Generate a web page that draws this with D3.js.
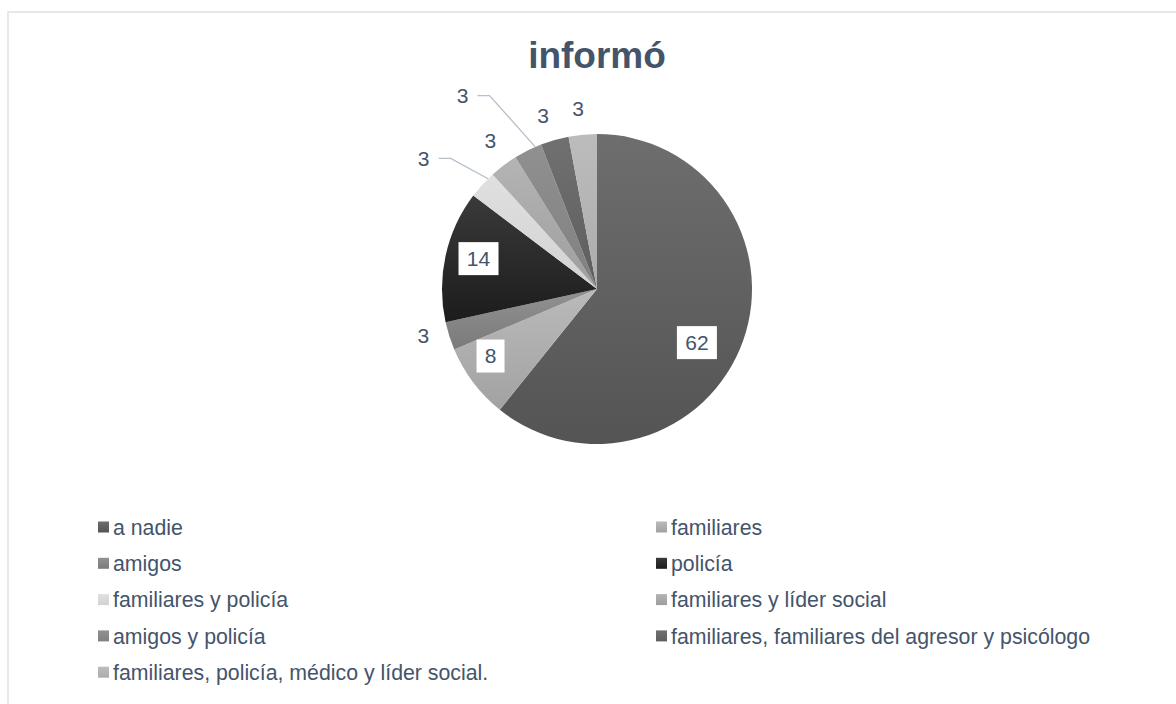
<!DOCTYPE html>
<html>
<head>
<meta charset="utf-8">
<script src="https://cdn.jsdelivr.net/npm/d3@7"></script>
<style>
  body { margin: 0; background: #fff; }
  svg { display: block; font-family: "Liberation Sans", Arial, sans-serif; }
</style>
</head>
<body>
<div id="container"></div>
<script>
// datos
const categories = [
    'a nadie',
    'familiares',
    'amigos',
    'policía',
    'familiares y policía',
    'familiares y líder social',
    'amigos y policía',
    'familiares, familiares del agresor y psicólogo',
    'familiares, policía, médico y líder social.'
];
const values = [62, 8, 3, 14, 3, 3, 3, 3, 3];
const title = 'informó';

const width = 1176;
const height = 704;
const cx = 597;
const cy = 289;
const radius = 155;
const textColor = '#44546a';

// gris claro arriba, más oscuro abajo
const sliceColors = [
    ['#6e6e6e', '#545454'],
    ['#bababa', '#a2a2a2'],
    ['#929292', '#7a7a7a'],
    ['#3a3a3a', '#1c1c1c'],
    ['#e0e0e0', '#d2d2d2'],
    ['#b4b4b4', '#9e9e9e'],
    ['#909090', '#808080'],
    ['#707070', '#5e5e5e'],
    ['#bcbcbc', '#acacac']
];

// posición de etiquetas: [ángulo en grados, fracción del radio, caja, guía]
const labelPlace = [
    [118, 0.73, true, false],
    [238, 0.81, true, false],
    [255, 1.16, false, false],
    [284.6, 0.79, true, false],
    [307, 1.40, false, true],
    [324.3, 1.18, false, false],
    [325.2, 1.52, false, true],
    [342.7, 1.17, false, false],
    [354, 1.17, false, false]
];

const svg = d3.select('#container')
    .append('svg')
    .attr('width', width)
    .attr('height', height);

// borde del gráfico
svg.append('rect')
    .attr('x', 8)
    .attr('y', 12)
    .attr('width', width + 20)
    .attr('height', height + 20)
    .attr('fill', '#fff')
    .attr('stroke', '#dde1e6')
    .attr('stroke-width', 1.5);

const defs = svg.append('defs');
sliceColors.forEach((c, i) => {
    const g = defs.append('linearGradient')
        .attr('id', `g${i}`)
        .attr('x1', 0).attr('y1', 0)
        .attr('x2', 0).attr('y2', 1);
    g.append('stop').attr('offset', '0%').attr('stop-color', c[0]);
    g.append('stop').attr('offset', '100%').attr('stop-color', c[1]);
});

svg.append('text')
    .attr('x', cx)
    .attr('y', 68)
    .attr('text-anchor', 'middle')
    .attr('font-size', 37)
    .attr('font-weight', 'bold')
    .attr('fill', textColor)
    .text(title);

const pie = d3.pie().sort(null).value(d => d)(values);
const arc = d3.arc().innerRadius(0).outerRadius(radius);

const pieG = svg.append('g').attr('transform', `translate(${cx},${cy})`);

pieG.selectAll('path.slice')
    .data(pie)
    .join('path')
    .attr('class', 'slice')
    .attr('d', arc)
    .attr('fill', (d, i) => `url(#g${i})`)
    .attr('stroke', 'none');

const polar = (deg, r) => {
    const a = deg * Math.PI / 180;
    return [r * Math.sin(a), -r * Math.cos(a)];
};

// líneas guía
pie.forEach((d, i) => {
    const p = labelPlace[i];
    if (!p[3]) return;
    const [lx, ly] = polar(p[0], radius * p[1]);
    const mid = (d.startAngle + d.endAngle) / 2 * 180 / Math.PI;
    const [ex, ey] = polar(mid + 3, radius);
    pieG.append('polyline')
        .attr('points', `${lx + 15},${ly} ${lx + 27},${ly} ${ex},${ey}`)
        .attr('fill', 'none')
        .attr('stroke', '#b4bfcc')
        .attr('stroke-width', 1.3);
});

// etiquetas
pie.forEach((d, i) => {
    const p = labelPlace[i];
    const [lx, ly] = polar(p[0], radius * p[1]);
    const label = String(values[i]);
    if (p[2]) {
        const w = label.length * 12 + 16;
        pieG.append('rect')
            .attr('x', lx - w / 2)
            .attr('y', ly - 16)
            .attr('width', w)
            .attr('height', 33)
            .attr('fill', '#fff');
    }
    pieG.append('text')
        .attr('x', lx)
        .attr('y', ly)
        .attr('dy', '0.36em')
        .attr('text-anchor', 'middle')
        .attr('font-size', 21)
        .attr('fill', textColor)
        .text(label);
});

// leyenda
const legendX = [98, 656];
const legendY0 = 527;
const rowH = 36.3;
const legend = svg.append('g');
categories.forEach((c, i) => {
    const x = legendX[i % 2];
    const y = legendY0 + Math.floor(i / 2) * rowH;
    legend.append('rect')
        .attr('x', x)
        .attr('y', y - 5.5)
        .attr('width', 11)
        .attr('height', 11)
        .attr('fill', `url(#g${i})`);
    legend.append('text')
        .attr('x', x + 15)
        .attr('y', y)
        .attr('dy', '0.36em')
        .attr('font-size', 21.3)
        .attr('fill', textColor)
        .text(c);
});
</script>
</body>
</html>
